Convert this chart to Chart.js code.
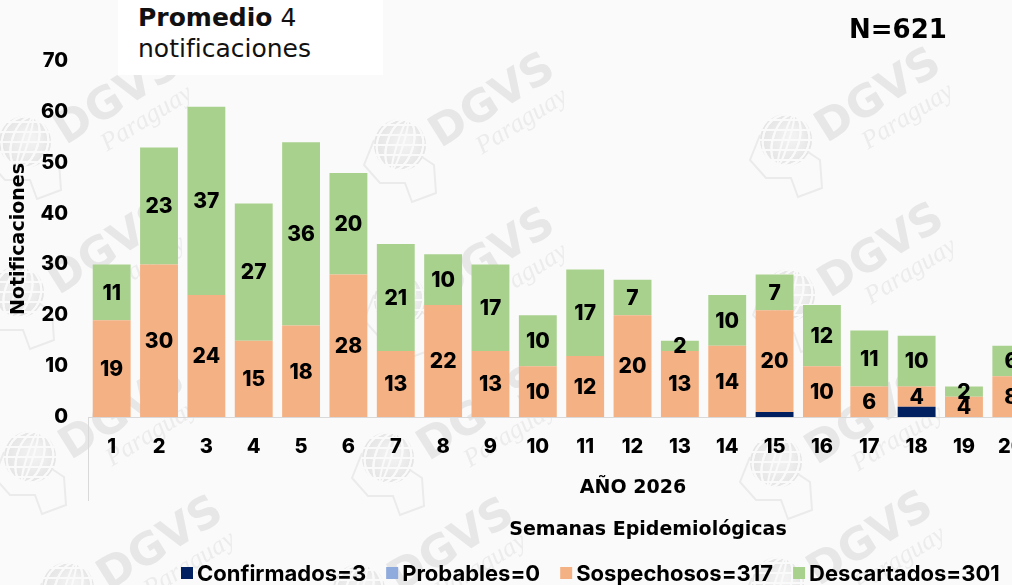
<!DOCTYPE html>
<html lang="es">
<head>
<meta charset="utf-8">
<title>Notificaciones por semana epidemiológica</title>
<script src="https://cdn.jsdelivr.net/npm/chart.js@4.4.1/dist/chart.umd.min.js"></script>
<style>
  html, body { margin: 0; padding: 0; background: #fafafa; overflow: hidden; }
  #wrap { position: relative; width: 1012px; height: 585px; overflow: hidden; }
  #grafico { position: absolute; left: 0; top: 0; }
  .promedio {
    position: absolute; left: 118px; top: 0; width: 265px; height: 75px;
    background: #fff; font-family: "DejaVu Sans", sans-serif; font-size: 25px;
    line-height: 31px; color: #111; padding: 2px 0 0 20px; box-sizing: border-box;
  }
  .promedio b { font-weight: 700; }
  .total {
    position: absolute; left: 849px; top: 14px; font-family: "DejaVu Sans", sans-serif;
    font-weight: 700; font-size: 26px; color: #000;
  }
</style>
</head>
<body>
<div id="wrap">
  <canvas id="grafico" width="1100" height="585"></canvas>
  <div class="promedio"><b>Promedio</b> 4<br>notificaciones</div>
  <div class="total">N=621</div>
</div>
<script>
// Semanas epidemiológicas y casos por clasificación
const semanas = ['1', '2', '3', '4', '5', '6', '7', '8', '9', '10',
                 '11', '12', '13', '14', '15', '16', '17', '18', '19', '20'];
const confirmados = [0, 0, 0, 0, 0, 0, 0, 0, 0, 0, 0, 0, 0, 0, 1, 0, 0, 2, 0, 0];
const probables   = [0, 0, 0, 0, 0, 0, 0, 0, 0, 0, 0, 0, 0, 0, 0, 0, 0, 0, 0, 0];
const sospechosos = [19, 30, 24, 15, 18, 28, 13, 22, 13, 10, 12, 20, 13, 14, 20, 10, 6, 4, 4, 8];
const descartados = [11, 23, 37, 27, 36, 20, 21, 10, 17, 10, 17, 7, 2, 10, 7, 12, 11, 10, 2, 6];
const leyenda = ['Confirmados=3', 'Probables=0', 'Sospechosos=317', 'Descartados=301'];
const yMax = 70;
const yPaso = 10;

const fuenteNum = 'Inter, "DejaVu Sans", sans-serif';
const fuenteTxt = '"DejaVu Sans", sans-serif';

// Colores tipo Excel
const colores = ['#002060', '#8faadc', '#f4b183', '#a9d18e'];

// Marca de agua (logo DGVS repetido)
const marcas = [
  [25, 142], [400, 145], [786, 140],
  [18, 292], [400, 300], [789, 295],
  [30, 457], [388, 458], [776, 462],
  [68, 588], [359, 590], [778, 583]
];

function dibujarLogo(ctx, gx, gy) {
  ctx.save();
  // globo
  const grad = ctx.createRadialGradient(gx + 6, gy - 4, 4, gx, gy, 27);
  grad.addColorStop(0, '#f2f2f2');
  grad.addColorStop(1, '#e4e4e4');
  ctx.fillStyle = grad;
  ctx.beginPath();
  ctx.arc(gx, gy, 26, 0, Math.PI * 2);
  ctx.fill();
  ctx.strokeStyle = '#fafafa';
  ctx.lineWidth = 2;
  for (let k = -2; k <= 2; k++) {
    ctx.beginPath();
    ctx.ellipse(gx, gy, Math.abs(k) * 10 + 3, 26, 0.3, 0, Math.PI * 2);
    ctx.stroke();
    ctx.beginPath();
    ctx.moveTo(gx - 26, gy + k * 10);
    ctx.lineTo(gx + 26, gy + k * 10);
    ctx.stroke();
  }
  // contorno del mapa
  ctx.strokeStyle = '#ebebeb';
  ctx.lineWidth = 2;
  ctx.beginPath();
  ctx.moveTo(gx - 26, gy - 5);
  ctx.lineTo(gx - 36, gy + 20);
  ctx.lineTo(gx - 20, gy + 38);
  ctx.lineTo(gx + 5, gy + 38);
  ctx.lineTo(gx + 12, gy + 57);
  ctx.lineTo(gx + 36, gy + 48);
  ctx.lineTo(gx + 34, gy + 20);
  ctx.lineTo(gx + 22, gy + 12);
  ctx.stroke();
  // texto
  ctx.translate(gx + 93, gy - 43);
  ctx.rotate(-0.56);
  ctx.fillStyle = '#e7e7e7';
  ctx.textAlign = 'center';
  ctx.textBaseline = 'middle';
  ctx.font = '700 44px ' + fuenteTxt;
  ctx.fillText('DGVS', 0, 0);
  ctx.font = 'italic 26px "Liberation Serif", serif';
  ctx.fillStyle = '#ececec';
  ctx.fillText('Paraguay', 14, 32);
  ctx.restore();
}

const marcaAgua = {
  id: 'marcaAgua',
  beforeDraw(chart) {
    marcas.forEach(([x, y]) => dibujarLogo(chart.ctx, x, y));
  }
};

// Etiquetas de valor centradas en cada tramo (solo sospechosos y descartados)
const etiquetasValor = {
  id: 'etiquetasValor',
  afterDatasetsDraw(chart) {
    const ctx = chart.ctx;
    ctx.save();
    ctx.font = '800 21px ' + fuenteNum;
    ctx.fillStyle = '#000';
    ctx.textAlign = 'center';
    ctx.textBaseline = 'middle';
    [2, 3].forEach(i => {
      const meta = chart.getDatasetMeta(i);
      meta.data.forEach((bar, j) => {
        const v = chart.data.datasets[i].data[j];
        if (!v) return;
        const { x, y, base } = bar.getProps(['x', 'y', 'base'], true);
        ctx.fillText(String(v), x, (y + base) / 2 + 1);
      });
    });
    ctx.restore();
  }
};

// Textos del eje X, separador de grupo y leyenda
const decoracion = {
  id: 'decoracion',
  afterDraw(chart) {
    const ctx = chart.ctx;
    const area = chart.chartArea;
    ctx.save();
    // línea vertical del grupo de categorías
    ctx.strokeStyle = '#d9d9d9';
    ctx.lineWidth = 1;
    ctx.beginPath();
    ctx.moveTo(area.left + 0.5, area.bottom);
    ctx.lineTo(area.left + 0.5, 501);
    ctx.stroke();

    ctx.fillStyle = '#000';
    ctx.textAlign = 'center';
    ctx.textBaseline = 'middle';
    ctx.font = '700 19px ' + fuenteTxt;
    ctx.fillText('AÑO 2026', 633, 488);
    ctx.fillText('Semanas Epidemiológicas', 648, 530);

    // leyenda
    ctx.font = '700 22px ' + fuenteNum;
    ctx.textAlign = 'left';
    let x = 181;
    const yc = 573;
    leyenda.forEach((txt, i) => {
      ctx.fillStyle = colores[i];
      ctx.fillRect(x, yc - 6, 12, 12);
      ctx.fillStyle = '#000';
      ctx.fillText(txt, x + 16, yc + 1);
      x += 16 + ctx.measureText(txt).width + 20;
    });
    ctx.restore();
  }
};

const nombres = ['Confirmados', 'Probables', 'Sospechosos', 'Descartados'];
const series = [confirmados, probables, sospechosos, descartados];

new Chart(document.getElementById('grafico'), {
  type: 'bar',
  data: {
    labels: semanas,
    datasets: series.map((d, i) => ({
      label: nombres[i],
      data: d,
      backgroundColor: colores[i],
      borderWidth: 0,
      categoryPercentage: 1,
      barPercentage: 0.8
    }))
  },
  options: {
    responsive: false,
    animation: false,
    layout: { padding: { top: 61, right: 65, left: 0, bottom: 0 } },
    plugins: {
      legend: { display: false },
      tooltip: { enabled: false }
    },
    scales: {
      x: {
        stacked: true,
        grid: { display: false, drawTicks: false },
        border: { display: true, color: '#d9d9d9', width: 1 },
        ticks: { color: '#000', font: { family: fuenteNum, size: 20, weight: '800' }, padding: 18, maxRotation: 0 },
        afterFit(scale) { scale.height = 168; }
      },
      y: {
        stacked: true,
        min: 0,
        max: yMax,
        grid: { display: false, drawTicks: false },
        border: { display: false },
        ticks: { stepSize: yPaso, color: '#000', font: { family: fuenteNum, size: 20, weight: '800' }, padding: 20 },
        title: {
          display: true,
          text: 'Notificaciones',
          color: '#000',
          font: { family: fuenteTxt, size: 19, weight: '700' },
          padding: { top: 8, bottom: 0 }
        },
        afterFit(scale) { scale.width = 88; }
      }
    }
  },
  plugins: [marcaAgua, etiquetasValor, decoracion]
});
</script>
</body>
</html>
